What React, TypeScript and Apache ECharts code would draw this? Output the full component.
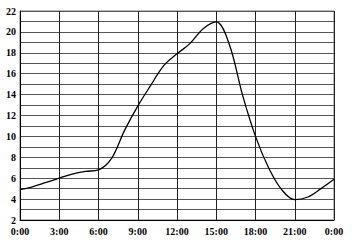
import React, { useEffect, useRef } from "react";
import * as echarts from "echarts";

const hours = [0, 1, 2, 3, 4, 5, 6, 7, 8, 9, 10, 11, 12, 13, 14, 15, 16, 17, 18, 19, 20, 21, 22, 23, 24];
const values = [4.9, 5.2, 5.6, 6.0, 6.4, 6.65, 6.8, 7.9, 10.6, 12.9, 14.9, 16.8, 17.9, 18.9, 20.3, 20.95, 18.8, 14.0, 10.0, 7.0, 4.9, 3.95, 4.2, 5.0, 5.9];
const yMin = 2;
const yMax = 22;
const xTickStep = 3;

export default function App() {
  const ref = useRef<HTMLDivElement>(null);
  useEffect(() => {
    if (!ref.current) return;
    const chart = echarts.init(ref.current, null, { renderer: "svg" });
    const font = "Liberation Serif";
    chart.setOption({
      animation: false,
      backgroundColor: "#ffffff",
      grid: { left: 20, right: 18, top: 11, bottom: 20, show: true, borderColor: "#777", borderWidth: 1 },
      xAxis: {
        type: "value",
        min: 0,
        max: 24,
        interval: xTickStep,
        axisLine: { show: true, lineStyle: { color: "#000", width: 1 } },
        axisTick: { show: false },
        splitLine: { show: true, lineStyle: { color: "#222", width: 1 } },
        axisLabel: {
          color: "#000",
          fontFamily: font,
          fontWeight: "bold",
          fontSize: 10,
          margin: 6,
          formatter: (v: number) => `${v % 24}:00`,
        },
      },
      yAxis: {
        type: "value",
        min: yMin,
        max: yMax,
        interval: 1,
        axisLine: { show: true, lineStyle: { color: "#000", width: 1 } },
        axisTick: { show: false },
        splitLine: { show: true, lineStyle: { color: "#555", width: 1 } },
        axisLabel: {
          color: "#000",
          fontFamily: font,
          fontWeight: "bold",
          fontSize: 10,
          margin: 4,
          formatter: (v: number) => (v % 2 === 0 ? String(v) : ""),
        },
      },
      series: [
        {
          type: "line",
          data: hours.map((h, i) => [h, values[i]]),
          smooth: 0.35,
          showSymbol: false,
          lineStyle: { color: "#000", width: 1.3 },
        },
      ],
    });
    return () => chart.dispose();
  }, []);
  return <div ref={ref} style={{ width: 352, height: 240, position: "absolute", left: 0, top: 0 }} />;
}
